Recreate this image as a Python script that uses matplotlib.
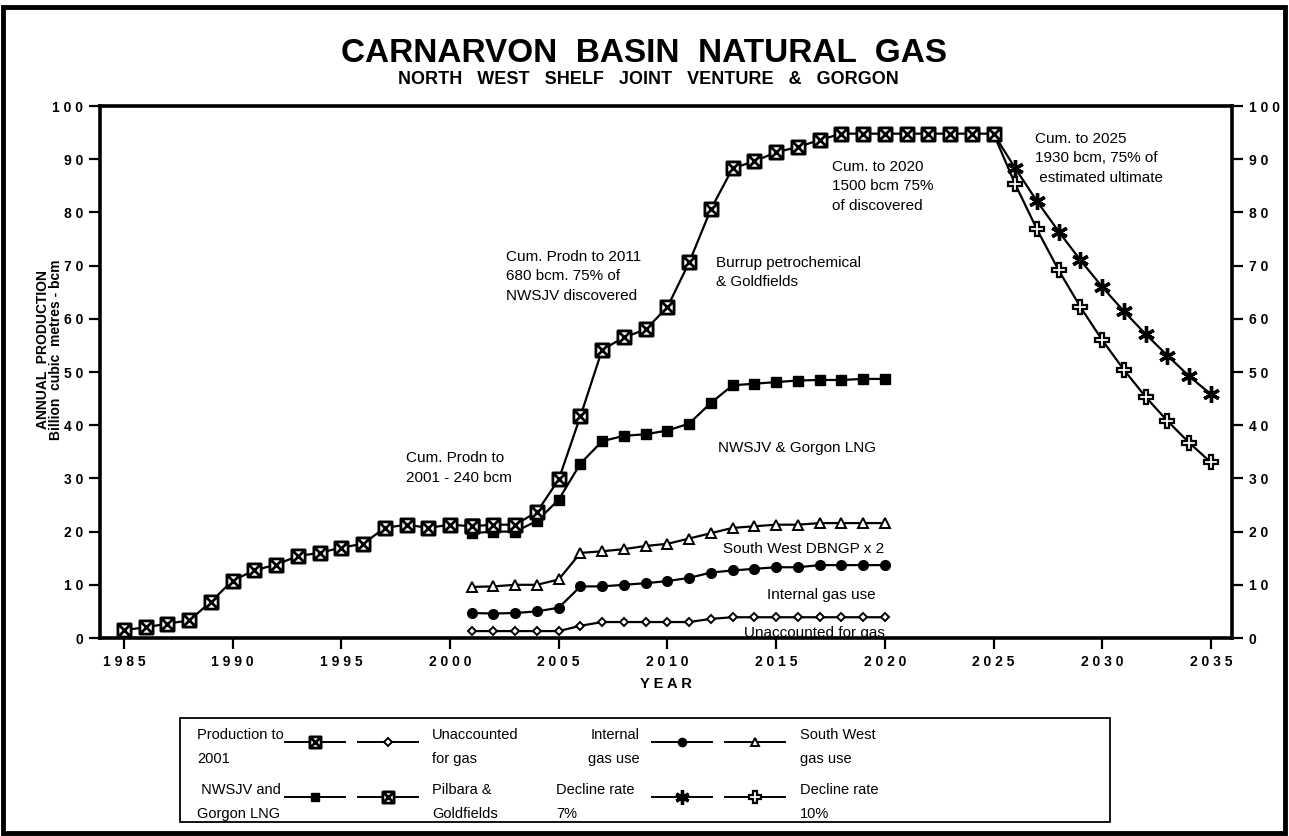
import matplotlib
matplotlib.use("Agg")
import matplotlib.pyplot as plt
from matplotlib.path import Path
from matplotlib.patches import Rectangle
from matplotlib.ticker import FuncFormatter

plt.rcParams["font.family"] = ["Liberation Sans", "DejaVu Sans"]
plt.rcParams["font.weight"] = "bold"

# ---- data (bcm per year) ----
prod_years = list(range(1985, 2002))
prod_values = [1.5, 2.0, 2.7, 3.3, 6.8, 10.8, 12.7, 13.8, 15.4, 16.0, 17.0,
               17.7, 20.7, 21.3, 20.7, 21.3, 21.0]

pilbara_years = list(range(2001, 2026))
pilbara_values = [21.0, 21.3, 21.3, 23.7, 29.8, 41.7, 54.2, 56.5, 58.0, 62.2,
                  70.6, 80.6, 88.3, 89.6, 91.3, 92.3, 93.6, 94.8, 94.8, 94.8,
                  94.8, 94.8, 94.8, 94.8, 94.8]

split_years = list(range(2001, 2021))
lng_values = [19.7, 20.0, 20.0, 22.0, 26.0, 32.8, 37.0, 38.0, 38.3, 39.0,
              40.3, 44.2, 47.5, 47.8, 48.1, 48.4, 48.5, 48.5, 48.7, 48.7]
southwest_values = [9.6, 9.7, 10.0, 10.0, 11.0, 16.0, 16.3, 16.7, 17.3, 17.7,
                    18.7, 19.7, 20.7, 21.0, 21.3, 21.3, 21.6, 21.6, 21.6, 21.6]
internal_values = [4.7, 4.6, 4.7, 5.0, 5.7, 9.7, 9.7, 10.0, 10.3, 10.7,
                   11.3, 12.3, 12.7, 13.0, 13.3, 13.3, 13.7, 13.7, 13.7, 13.7]
unaccounted_values = [1.3, 1.3, 1.3, 1.3, 1.3, 2.3, 3.0, 3.0, 3.0, 3.0,
                      3.0, 3.6, 3.9, 3.9, 3.9, 3.9, 3.9, 3.9, 3.9, 3.9]

decline_years = list(range(2025, 2036))
decline7_values = [94.8, 88.3, 82.1, 76.4, 71.0, 66.0, 61.4, 57.1, 53.1, 49.2, 45.8]
decline10_values = [94.8, 85.3, 76.8, 69.1, 62.2, 56.0, 50.4, 45.3, 40.8, 36.7, 33.0]

x_ticks = list(range(1985, 2036, 5))
y_ticks = list(range(0, 101, 10))

W, H = 1289, 836


def fx(px):
    return px / W


def fy(py):
    return 1 - py / H


def spaced(s):
    return " ".join(str(s))


# square with an X inside
box_x = Path(
    [(-1, -1), (1, -1), (1, 1), (-1, 1), (-1, -1), (-1, -1), (1, 1), (-1, 1), (1, -1)],
    [Path.MOVETO, Path.LINETO, Path.LINETO, Path.LINETO, Path.CLOSEPOLY,
     Path.MOVETO, Path.LINETO, Path.MOVETO, Path.LINETO],
)

styles = {
    "boxx": dict(marker=box_x, ms=9.5, mfc="white", mec="black", mew=2.0),
    "diamond": dict(marker="D", ms=4.5, mfc="white", mec="black", mew=1.4),
    "circle": dict(marker="o", ms=7, mfc="black", mec="black", mew=1),
    "triangle": dict(marker="^", ms=6.5, mfc="white", mec="black", mew=1.4),
    "square": dict(marker="s", ms=6.5, mfc="black", mec="black", mew=1),
    "asterisk": dict(marker=(6, 2, 0), ms=12, mfc="black", mec="black", mew=2.4),
    "plus": dict(marker="P", ms=10.5, mfc="white", mec="black", mew=1.6),
}
LW = 1.6

fig = plt.figure(figsize=(W / 100, H / 100), dpi=100)
ax = fig.add_axes([fx(100), fy(638), fx(1232) - fx(100), fy(106) - fy(638)])

ax.plot(decline_years, decline7_values, color="black", lw=LW, markevery=slice(1, None), zorder=3, **styles["asterisk"])
ax.plot(decline_years, decline10_values, color="black", lw=LW, markevery=slice(1, None), zorder=3, **styles["plus"])
ax.plot(split_years, unaccounted_values, color="black", lw=LW, zorder=3, **styles["diamond"])
ax.plot(split_years, internal_values, color="black", lw=LW, zorder=3, **styles["circle"])
ax.plot(split_years, southwest_values, color="black", lw=LW, zorder=3, **styles["triangle"])
ax.plot(split_years, lng_values, color="black", lw=LW, zorder=3, **styles["square"])
ax.plot(pilbara_years, pilbara_values, color="black", lw=LW, zorder=4, **styles["boxx"])
ax.plot(prod_years, prod_values, color="black", lw=LW, zorder=4, **styles["boxx"])

ax.set_xlim(1983.9, 2035.97)
ax.set_ylim(0, 100)
ax.set_xticks(x_ticks)
ax.set_xticklabels([spaced(v) for v in x_ticks])
ax.set_yticks(y_ticks)
ax.tick_params(axis="both", direction="out", length=8, width=1.6, labelsize=10, pad=4)
ax.tick_params(axis="y", right=True, labelright=True)
ax.yaxis.set_major_formatter(FuncFormatter(lambda v, p: spaced(int(v))))
for side in ["left", "right", "top", "bottom"]:
    ax.spines[side].set_linewidth(2.6)
    ax.spines[side].set_zorder(5)

ax.set_xlabel("Y E A R", fontsize=10.5, fontweight="bold", labelpad=6)

note = dict(fontsize=11, fontweight="normal", ha="left", va="center", linespacing=1.5)
ax.text(1997.97, 32.0, "Cum. Prodn to\n2001 - 240 bcm", **note)
ax.text(2002.56, 68.0, "Cum. Prodn to 2011\n680 bcm. 75% of\nNWSJV discovered", **note)
ax.text(2012.22, 68.7, "Burrup petrochemical\n& Goldfields", **note)
ax.text(2017.55, 84.9, "Cum. to 2020\n1500 bcm 75%\nof discovered", **note)
ax.text(2026.93, 90.2, "Cum. to 2025\n1930 bcm, 75% of\n estimated ultimate", **note)
ax.text(2012.31, 35.8, "NWSJV & Gorgon LNG", **note)
ax.text(2012.54, 16.8, "South West DBNGP x 2", **note)
ax.text(2014.56, 8.1, "Internal gas use", **note)
ax.text(2013.5, 0.9, "Unaccounted for gas", zorder=1, clip_on=True, **note)

# titles and y label
fig.text(fx(644), fy(53), "CARNARVON  BASIN  NATURAL  GAS", fontsize=24, fontweight="bold",
         ha="center", va="center")
fig.text(fx(648), fy(80), "NORTH   WEST   SHELF   JOINT   VENTURE   &   GORGON", fontsize=13,
         fontweight="bold", ha="center", va="center")
fig.text(fx(43), fy(350), "ANNUAL  PRODUCTION", fontsize=10, fontweight="heavy",
         rotation=90, ha="center", va="center")
fig.text(fx(56), fy(350), "Billion  cubic  metres - bcm", fontsize=10, fontweight="bold",
         rotation=90, ha="center", va="center")

# legend panel drawn by hand
lax = fig.add_axes([0, 0, 1, 1], zorder=10)
lax.set_xlim(0, W)
lax.set_ylim(H, 0)
lax.axis("off")
lax.add_patch(Rectangle((180, 718), 930, 104, fill=False, lw=1.3, ec="black"))
lax.add_patch(Rectangle((3, 7), 1282, 826, fill=False, lw=3.5, ec="black"))

leg = dict(fontsize=10.5, fontweight="normal", va="center", linespacing=1.9)
rows = [742, 797]
lax.text(197, rows[0] + 5, "Production to\n2001", ha="left", **leg)
lax.text(432, rows[0] + 5, "Unaccounted\nfor gas", ha="left", **leg)
lax.text(640, rows[0] + 5, "Internal\ngas use", ha="right", **leg)
lax.text(800, rows[0] + 5, "South West\ngas use", ha="left", **leg)
lax.text(197, rows[1] + 5, " NWSJV and\nGorgon LNG", ha="left", **leg)
lax.text(432, rows[1] + 5, "Pilbara &\nGoldfields", ha="left", **leg)
lax.text(556, rows[1] + 5, "Decline rate\n7%", ha="left", **leg)
lax.text(800, rows[1] + 5, "Decline rate\n10%", ha="left", **leg)

samples = [
    (285, rows[0], "boxx"), (358, rows[0], "diamond"), (652, rows[0], "circle"), (725, rows[0], "triangle"),
    (285, rows[1], "square"), (358, rows[1], "boxx"), (652, rows[1], "asterisk"), (725, rows[1], "plus"),
]
for x0, y0, key in samples:
    st = dict(styles[key])
    st["ms"] = st["ms"] * 0.85
    lax.plot([x0, x0 + 60], [y0, y0], color="black", lw=1.4)
    lax.plot([x0 + 30], [y0], color="black", lw=0, **st)

fig.savefig("out.png", dpi=100)
